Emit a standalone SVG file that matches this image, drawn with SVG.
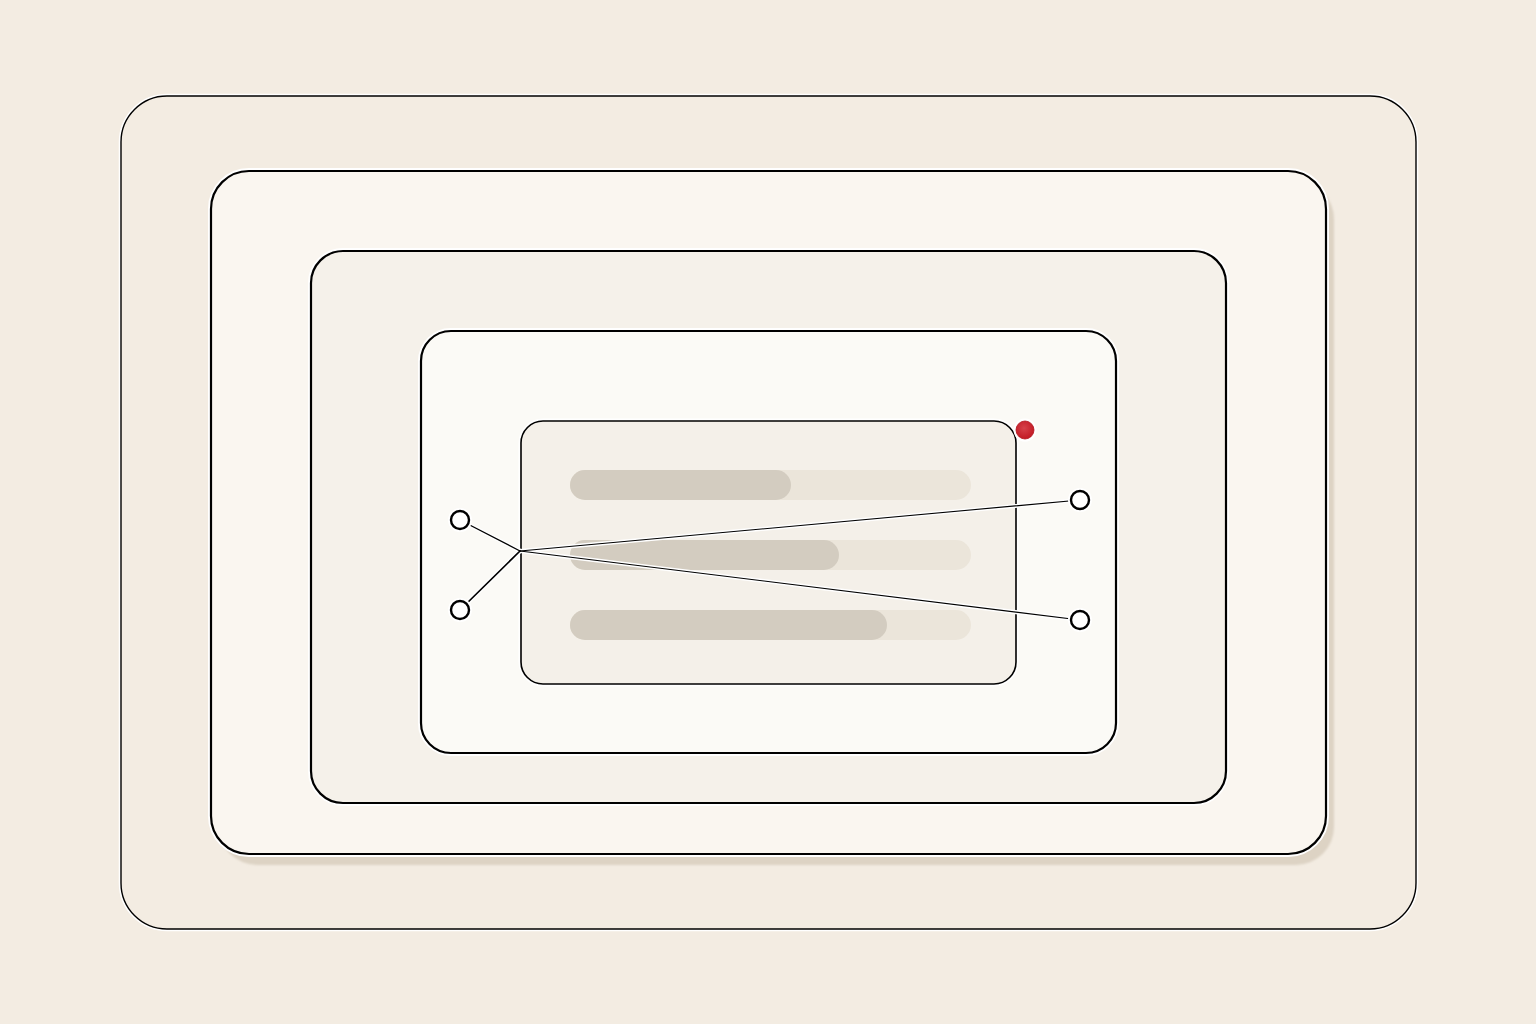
<svg xmlns="http://www.w3.org/2000/svg" width="1536" height="1024" viewBox="0 0 1536 1024">
  <defs>
    <style>
      .halo { fill: none; stroke: #ffffff; stroke-linecap: round; stroke-linejoin: round; }
      .edge { fill: none; stroke: #000000; stroke-linecap: round; }
      .track { fill: #ebe5da; }
      .bar { fill: #d3ccc0; }
      .port { fill: #ffffff; stroke: #000000; stroke-width: 2.4; }
      .porthalo { fill: #ffffff; }
    </style>
    <filter id="soft" x="-5%" y="-5%" width="110%" height="110%">
      <feGaussianBlur stdDeviation="0.8"/>
    </filter>
    <radialGradient id="red" cx="45%" cy="40%" r="60%">
      <stop offset="0" stop-color="#d6414a"/>
      <stop offset="1" stop-color="#c21a24"/>
    </radialGradient>
  </defs>

  <rect width="1536" height="1024" fill="#f3ece2"/>

  <g id="frame-outer">
    <rect x="121" y="96" width="1295" height="833" rx="46" class="halo" stroke-width="4.5"/>
    <rect x="121" y="96" width="1295" height="833" rx="46" fill="#f3ece2" stroke="#000000" stroke-width="1.4"/>
  </g>

  <g id="frame-2">
    <rect x="219" y="181" width="1115" height="684" rx="38" fill="#ddd3c4" filter="url(#soft)"/>
    <rect x="211" y="171" width="1115" height="683" rx="38" class="halo" stroke-width="6"/>
    <rect x="211" y="171" width="1115" height="683" rx="38" fill="#faf6f0" stroke="#000000" stroke-width="2.2"/>
  </g>

  <g id="frame-3">
    <rect x="311" y="251" width="915" height="552" rx="32" class="halo" stroke-width="6"/>
    <rect x="311" y="251" width="915" height="552" rx="32" fill="#f5f1ea" stroke="#000000" stroke-width="2.2"/>
  </g>

  <g id="frame-4">
    <rect x="421" y="331" width="695" height="422" rx="30" class="halo" stroke-width="6"/>
    <rect x="421" y="331" width="695" height="422" rx="30" fill="#fbfaf6" stroke="#000000" stroke-width="2.2"/>
  </g>

  <g id="panel">
    <rect x="521" y="421" width="495" height="263" rx="22" class="halo" stroke-width="5"/>
    <rect x="521" y="421" width="495" height="263" rx="22" fill="#f4f0e9" stroke="#000000" stroke-width="1.6"/>
    <g id="bar-1">
      <rect x="570" y="470" width="401" height="30" rx="15" class="track"/>
      <rect x="570" y="470" width="221" height="30" rx="15" class="bar"/>
    </g>
    <g id="bar-2">
      <rect x="570" y="540" width="401" height="30" rx="15" class="track"/>
      <rect x="570" y="540" width="269" height="30" rx="15" class="bar"/>
    </g>
    <g id="bar-3">
      <rect x="570" y="610" width="401" height="30" rx="15" class="track"/>
      <rect x="570" y="610" width="317" height="30" rx="15" class="bar"/>
    </g>
  </g>

  <g id="status-dot">
    <circle cx="1025" cy="430" r="11.5" fill="#ffffff"/>
    <circle cx="1025" cy="430" r="9" fill="url(#red)" stroke="#b3141d" stroke-width="0.8"/>
  </g>

  <g id="connectors">
    <line x1="460" y1="520" x2="520" y2="551" class="halo" stroke-width="4"/>
    <line x1="460" y1="610" x2="520" y2="551" class="halo" stroke-width="4.5"/>
    <line x1="520" y1="551" x2="1080" y2="500" class="halo" stroke-width="4"/>
    <line x1="520" y1="551" x2="1080" y2="620" class="halo" stroke-width="4"/>
    <line x1="460" y1="520" x2="520" y2="551" class="edge" stroke-width="1.3"/>
    <line x1="460" y1="610" x2="520" y2="551" class="edge" stroke-width="1.7"/>
    <line x1="520" y1="551" x2="1080" y2="500" class="edge" stroke-width="1.1"/>
    <line x1="520" y1="551" x2="1080" y2="620" class="edge" stroke-width="1.1"/>
  </g>

  <g id="port-left-top">
    <circle cx="460" cy="520" r="12" class="porthalo"/>
    <circle cx="460" cy="520" r="9" class="port"/>
  </g>
  <g id="port-left-bottom">
    <circle cx="460" cy="610" r="12" class="porthalo"/>
    <circle cx="460" cy="610" r="9" class="port"/>
  </g>
  <g id="port-right-top">
    <circle cx="1080" cy="500" r="12" class="porthalo"/>
    <circle cx="1080" cy="500" r="9" class="port"/>
  </g>
  <g id="port-right-bottom">
    <circle cx="1080" cy="620" r="12" class="porthalo"/>
    <circle cx="1080" cy="620" r="9" class="port"/>
  </g>
</svg>
